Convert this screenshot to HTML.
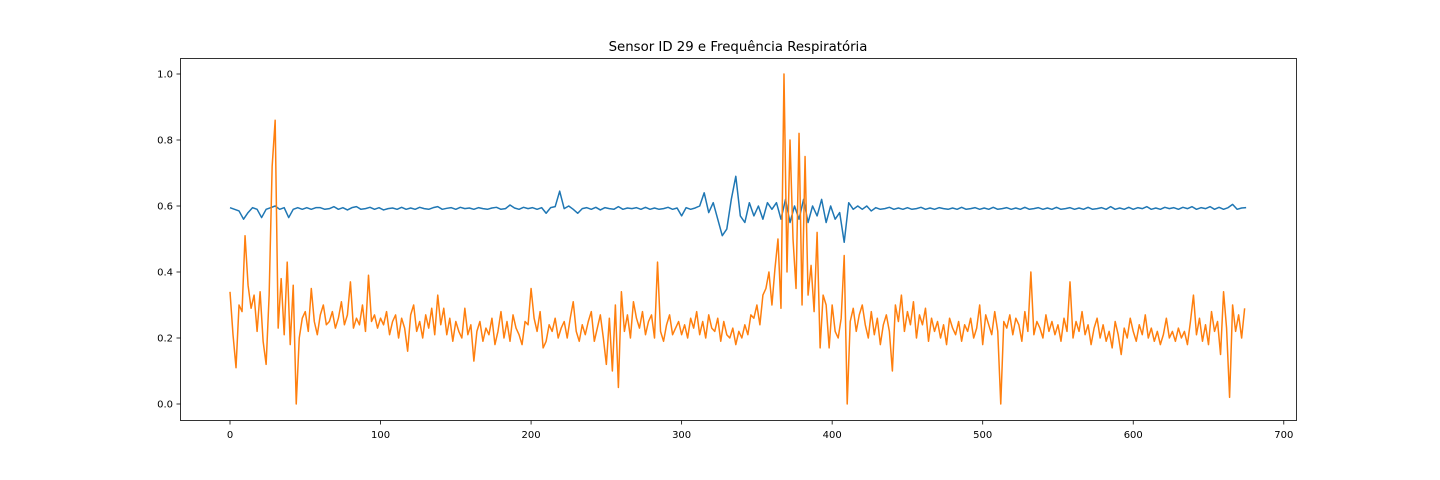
<!DOCTYPE html>
<html><head><meta charset="utf-8">
<style>
html,body{margin:0;padding:0;background:#fff;}
svg{display:block;font-family:"DejaVu Sans","Liberation Sans",sans-serif;}
</style></head>
<body>
<svg id="chart" width="1440" height="480" viewBox="0 0 1440 480" xmlns="http://www.w3.org/2000/svg">
<rect x="0" y="0" width="1440" height="480" fill="#fff"/>
<text x="738" y="51" text-anchor="middle" font-size="13.3">Sensor ID 29 e Frequência Respiratória</text>
<g id="plot"></g>
<rect x="180.5" y="58.5" width="1116" height="362" fill="none" stroke="#000" stroke-width="0.8"/>
<g id="axes"></g>
</svg>
<script>
const xTicks = [0,100,200,300,400,500,600,700];
const yTicks = [0.0,0.2,0.4,0.6,0.8,1.0];
const yTickLabels = ["0.0","0.2","0.4","0.6","0.8","1.0"];
const orangeStep = 2;
const orangeValues = [
0.34,0.21,0.11,0.30,0.28,0.51,0.36,0.29,0.33,0.22,
0.34,0.19,0.12,0.33,0.72,0.86,0.23,0.38,0.21,0.43,
0.18,0.36,0.00,0.20,0.26,0.28,0.22,0.35,0.25,0.21,
0.27,0.30,0.24,0.25,0.28,0.23,0.26,0.31,0.24,0.27,
0.37,0.23,0.26,0.24,0.30,0.22,0.39,0.25,0.27,0.23,
0.26,0.24,0.28,0.21,0.25,0.27,0.20,0.26,0.23,0.16,
0.27,0.30,0.22,0.25,0.20,0.27,0.23,0.29,0.21,0.33,
0.24,0.29,0.21,0.26,0.19,0.25,0.22,0.20,0.29,0.21,
0.24,0.13,0.22,0.25,0.19,0.23,0.21,0.26,0.18,0.22,
0.28,0.20,0.25,0.19,0.27,0.23,0.21,0.18,0.25,0.24,
0.35,0.26,0.22,0.28,0.17,0.19,0.24,0.22,0.26,0.20,
0.23,0.25,0.20,0.26,0.31,0.22,0.19,0.24,0.21,0.25,
0.28,0.19,0.23,0.27,0.20,0.12,0.26,0.10,0.30,0.05,
0.34,0.22,0.27,0.20,0.31,0.26,0.23,0.28,0.21,0.25,
0.27,0.20,0.43,0.22,0.19,0.24,0.27,0.21,0.23,0.25,
0.21,0.24,0.20,0.26,0.23,0.28,0.21,0.25,0.20,0.27,
0.23,0.22,0.26,0.19,0.25,0.21,0.20,0.23,0.18,0.22,
0.20,0.24,0.21,0.27,0.26,0.30,0.24,0.33,0.35,0.40,
0.30,0.41,0.50,0.29,1.00,0.40,0.80,0.50,0.35,0.82,
0.30,0.75,0.33,0.42,0.28,0.52,0.17,0.33,0.30,0.17,
0.30,0.22,0.20,0.26,0.45,0.00,0.25,0.29,0.22,0.27,
0.30,0.24,0.20,0.28,0.21,0.26,0.18,0.24,0.27,0.22,
0.10,0.30,0.25,0.33,0.22,0.28,0.24,0.31,0.20,0.27,
0.24,0.29,0.19,0.26,0.22,0.25,0.20,0.24,0.18,0.26,
0.23,0.21,0.25,0.19,0.24,0.22,0.26,0.20,0.23,0.30,
0.18,0.27,0.24,0.21,0.28,0.22,0.00,0.25,0.23,0.27,
0.21,0.26,0.24,0.19,0.28,0.22,0.40,0.21,0.25,0.23,
0.20,0.27,0.22,0.25,0.21,0.24,0.19,0.26,0.22,0.37,
0.20,0.25,0.22,0.28,0.21,0.24,0.18,0.23,0.26,0.20,
0.24,0.19,0.22,0.17,0.25,0.21,0.15,0.23,0.20,0.26,
0.22,0.19,0.24,0.21,0.27,0.20,0.23,0.19,0.22,0.18,
0.21,0.26,0.20,0.22,0.19,0.23,0.20,0.22,0.18,0.25,
0.33,0.21,0.26,0.19,0.24,0.18,0.28,0.22,0.25,0.15,
0.34,0.23,0.02,0.30,0.22,0.27,0.20,0.29];
const blueStep = 3;
const blueValues = [
0.595,0.59,0.585,0.56,0.58,0.595,0.59,0.565,0.59,0.595,
0.60,0.59,0.595,0.565,0.59,0.595,0.59,0.595,0.59,0.595,
0.595,0.59,0.592,0.598,0.59,0.595,0.588,0.595,0.598,0.59,
0.592,0.596,0.59,0.595,0.588,0.592,0.594,0.59,0.596,0.59,
0.594,0.59,0.596,0.592,0.59,0.595,0.598,0.59,0.593,0.595,
0.59,0.596,0.592,0.594,0.59,0.595,0.592,0.59,0.594,0.596,
0.59,0.592,0.603,0.594,0.59,0.596,0.592,0.595,0.59,0.595,
0.578,0.595,0.598,0.645,0.592,0.60,0.59,0.578,0.592,0.595,
0.59,0.596,0.588,0.595,0.592,0.59,0.598,0.59,0.594,0.592,
0.595,0.59,0.596,0.59,0.594,0.59,0.592,0.596,0.59,0.594,
0.57,0.595,0.59,0.594,0.60,0.64,0.58,0.61,0.56,0.51,
0.53,0.62,0.69,0.57,0.55,0.61,0.57,0.60,0.56,0.61,
0.59,0.61,0.56,0.62,0.55,0.60,0.56,0.62,0.55,0.60,
0.57,0.62,0.55,0.60,0.56,0.58,0.49,0.61,0.59,0.60,
0.59,0.60,0.585,0.595,0.59,0.592,0.596,0.59,0.594,0.59,
0.595,0.59,0.592,0.596,0.59,0.594,0.59,0.595,0.592,0.59,
0.594,0.59,0.596,0.59,0.592,0.595,0.59,0.594,0.59,0.596,
0.59,0.592,0.595,0.59,0.594,0.59,0.596,0.59,0.592,0.595,
0.59,0.594,0.59,0.596,0.59,0.592,0.595,0.59,0.594,0.59,
0.596,0.59,0.592,0.595,0.59,0.598,0.59,0.594,0.59,0.596,
0.59,0.595,0.592,0.598,0.59,0.594,0.59,0.596,0.592,0.595,
0.59,0.596,0.592,0.598,0.59,0.595,0.592,0.598,0.59,0.596,
0.59,0.595,0.605,0.59,0.594,0.595];

const NS = "http://www.w3.org/2000/svg";
function xScale(v){ return 230 + v * 1.5054; }
function yScale(v){ return 404 - v * 330; }
const plot = document.getElementById('plot');
const axes = document.getElementById('axes');

function drawSeries(values, step, color, name){
  let d = '';
  values.forEach((v,i)=>{ d += (i?'L':'M') + xScale(i*step).toFixed(2) + ',' + yScale(v).toFixed(2); });
  const p = document.createElementNS(NS,'path');
  p.setAttribute('d', d);
  p.setAttribute('fill','none');
  p.setAttribute('stroke', color);
  p.setAttribute('stroke-width','1.5');
  p.setAttribute('stroke-linejoin','round');
  
  
  plot.appendChild(p);
}
drawSeries(blueValues, blueStep, '#1f77b4', 'sensor-line');
drawSeries(orangeValues, orangeStep, '#ff7f0e', 'respiratory-line');

xTicks.forEach(t=>{
  const x = xScale(t);
  const l = document.createElementNS(NS,'line');
  l.setAttribute('x1',x); l.setAttribute('x2',x); l.setAttribute('y1',420.5); l.setAttribute('y2',424.5);
  l.setAttribute('stroke','#000'); l.setAttribute('stroke-width','0.8');
  
  
  axes.appendChild(l);
  const tx = document.createElementNS(NS,'text');
  tx.setAttribute('x',x); tx.setAttribute('y',438); tx.setAttribute('text-anchor','middle'); tx.setAttribute('font-size','10');
  tx.textContent = String(t);
  
  
  axes.appendChild(tx);
});
yTicks.forEach((t,i)=>{
  const y = yScale(t);
  const l = document.createElementNS(NS,'line');
  l.setAttribute('x1',176.5); l.setAttribute('x2',180.5); l.setAttribute('y1',y); l.setAttribute('y2',y);
  l.setAttribute('stroke','#000'); l.setAttribute('stroke-width','0.8');
  
  
  axes.appendChild(l);
  const tx = document.createElementNS(NS,'text');
  tx.setAttribute('x',173); tx.setAttribute('y',y+3.5); tx.setAttribute('text-anchor','end'); tx.setAttribute('font-size','10');
  tx.textContent = yTickLabels[i];
  
  
  axes.appendChild(tx);
});
</script>
</body></html>
